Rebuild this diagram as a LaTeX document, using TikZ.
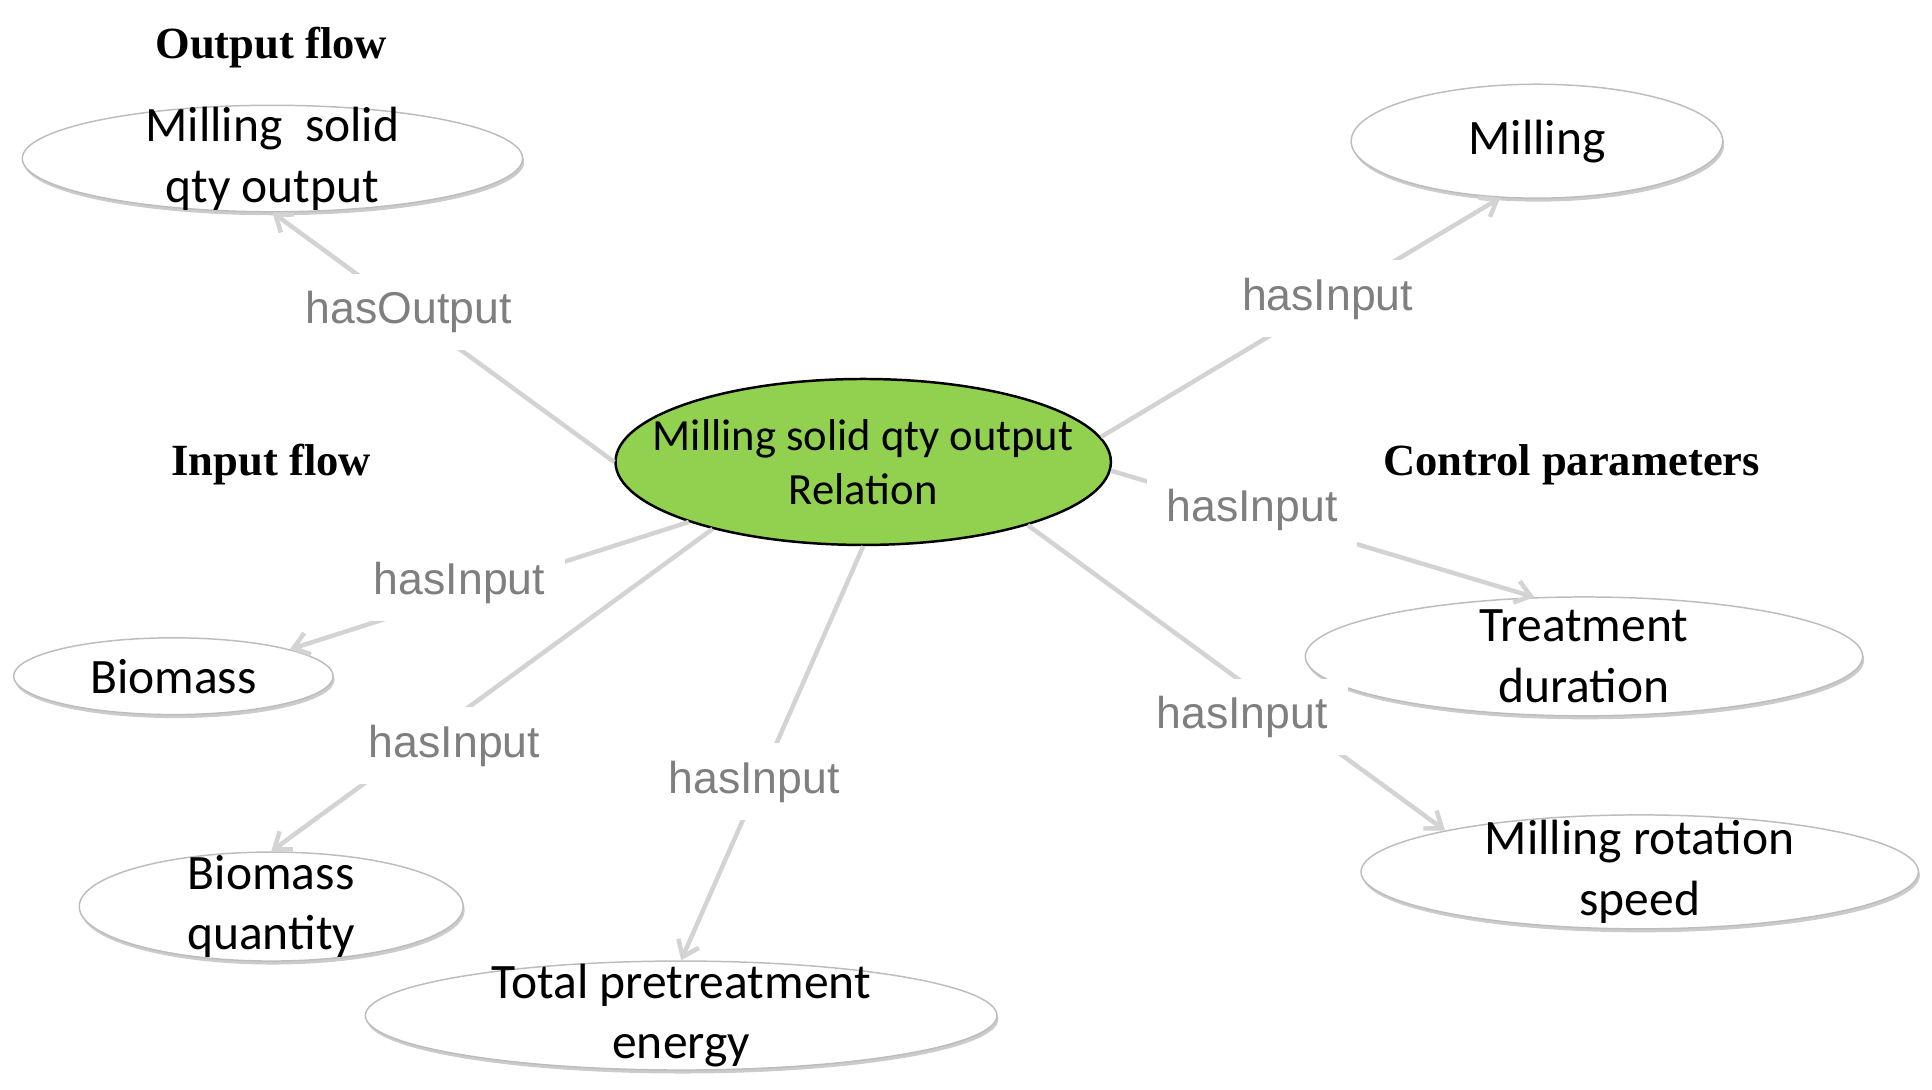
\documentclass[tikz,border=0pt]{standalone}
\usepackage{fontspec}
\setmainfont{Carlito}
\newfontfamily\lblfont{Liberation Sans}
\newfontfamily\ttlfont{Liberation Serif}
\usetikzlibrary{shapes.geometric,arrows.meta,shadows}
\definecolor{cgreen}{HTML}{92D050}
\definecolor{edgegray}{HTML}{D3D3D3}
\definecolor{lblgray}{HTML}{7F7F7F}
\definecolor{rimgray}{HTML}{BDBDBD}
\begin{document}
\begin{tikzpicture}[x=0.5pt,y=-0.5pt,
  ell/.style={ellipse, draw=rimgray, line width=0.6pt, fill=white, inner sep=0pt,
    drop shadow={shadow xshift=0.6pt, shadow yshift=-1.4pt, fill=black!45, opacity=0.45}},
  eltext/.style={font=\fontsize{20pt}{24.5pt}\selectfont, align=center, inner sep=0pt},
  hubtext/.style={font=\fontsize{18pt}{22pt}\selectfont, align=center, inner sep=0pt},
  hub/.style={ellipse, draw=black, line width=1pt, fill=cgreen, inner sep=0pt},
  edgeln/.style={draw=edgegray, line width=1.8pt, -{Straight Barb[length=6pt,width=9pt]}},
  lbl/.style={fill=white, font=\lblfont\fontsize{18pt}{21pt}\selectfont, text=lblgray, inner xsep=8pt, inner ysep=7pt},
  ttl/.style={font=\ttlfont\bfseries\fontsize{18pt}{21pt}\selectfont, inner sep=0pt}
]
\useasboundingbox (0,0) rectangle (1560,880);

% titles
\node[ttl] (t1) at (219,38) {Output flow};
\node[ttl] (t2) at (219,375) {Input flow};
\node[ttl] (t3) at (1269,375) {Control parameters};

% nodes
\node[ell, minimum width=202pt, minimum height=43pt, label={[eltext]center:{Milling~ solid\\qty output}}] (out) at (220,128) {};
\node[ell, minimum width=150pt, minimum height=46pt, label={[eltext]center:{Milling}}] (mil) at (1241,114) {};
\node[hub, minimum width=200pt, minimum height=67pt, label={[hubtext]center:{Milling solid qty output\\Relation}}] (c) at (697,373) {};
\node[ell, minimum width=129pt, minimum height=31pt, label={[eltext]center:{Biomass}}] (bio) at (140,546) {};
\node[ell, minimum width=155pt, minimum height=44pt, label={[eltext]center:{Biomass\\quantity}}] (bq) at (219,732) {};
\node[ell, minimum width=255pt, minimum height=44pt, label={[eltext]center:{Total pretreatment\\energy}}] (tot) at (550,820) {};
\node[ell, minimum width=225pt, minimum height=48pt, label={[eltext]center:{Treatment\\duration}}] (treat) at (1279,530) {};
\node[ell, minimum width=225pt, minimum height=46pt, label={[eltext]center:{Milling rotation\\speed}}] (mrs) at (1324,704) {};

% connectors
\draw[edgeln] (c.west) -- (out.south);
\draw[edgeln] (c.6) -- (mil.237);
\draw[edgeln] (c.-2) -- (treat.130);
\draw[edgeln] (c.199) -- (bio.13);
\draw[edgeln] (c.204) -- (bq.north);
\draw[edgeln] (c.south) -- (tot.north);
\draw[edgeln] (c.-21) -- (mrs.168);

% labels
\node[lbl] (l1) at (330,252) {hasOutput};
\node[lbl] (l2) at (1072,241) {hasInput};
\node[lbl] (l3) at (1011,412) {hasInput};
\node[lbl] (l4) at (371,471) {hasInput};
\node[lbl] (l5) at (367,602) {hasInput};
\node[lbl] (l6) at (609,631) {hasInput};
\node[lbl] (l7) at (1003,579) {hasInput};
\end{tikzpicture}
\end{document}
